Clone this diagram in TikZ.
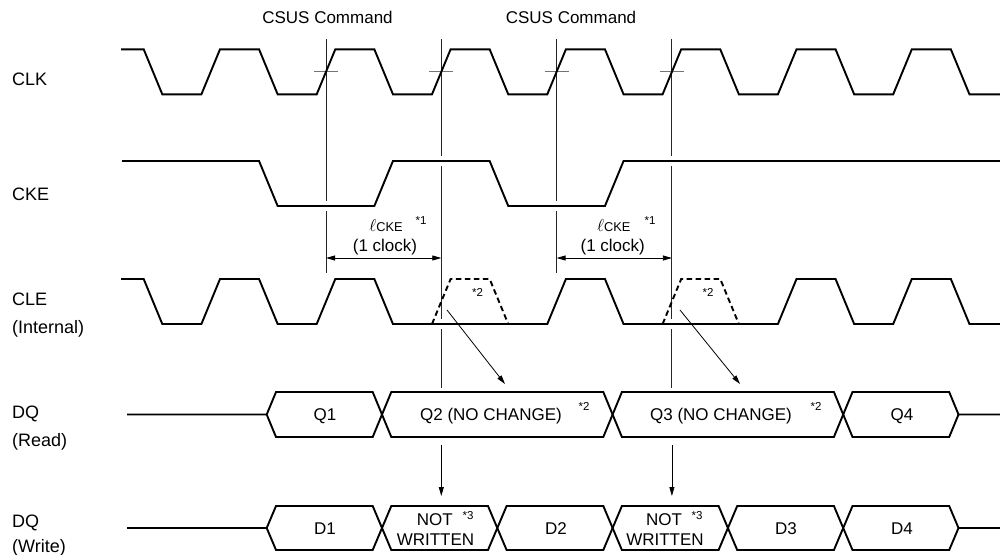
\documentclass[tikz,border=0pt]{standalone}
\usepackage{fontspec}
\setmainfont{Liberation Sans}
\usetikzlibrary{arrows.meta}
\begin{document}
\begin{tikzpicture}[x=1pt,y=-1pt,
  sig/.style={line width=1.9pt,line join=miter},
  dsig/.style={line width=1.9pt,dash pattern=on 5.5pt off 3.5pt},
  refline/.style={line width=0.9pt,black!85},
  crossmark/.style={line width=1pt,black!55},
  thinarrow/.style={line width=0.8pt,-{Triangle[length=9pt,width=5pt]}},
  dimarrow/.style={line width=0.8pt,{Triangle[length=9pt,width=5pt]}-{Triangle[length=9pt,width=5pt]}},
  lbl/.style={inner sep=0pt,anchor=base west,font=\fontsize{18}{20}\selectfont},
  txt/.style={inner sep=0pt,anchor=base,font=\fontsize{17}{20}\selectfont},
  note/.style={inner sep=0pt,anchor=base,font=\fontsize{11.5}{13}\selectfont},
]
\useasboundingbox (0,0) rectangle (1000,554);
\fill[white] (0,0) rectangle (1000,554);

% ---- left labels
\node[lbl] (lclk) at (12,85) {CLK};
\node[lbl] (lcke) at (12,200) {CKE};
\node[lbl] (lcle) at (12,305) {CLE};
\node[lbl] (lcle2) at (12,333) {(Internal)};
\node[lbl] (ldqr) at (12,418) {DQ};
\node[lbl] (ldqr2) at (12,446) {(Read)};
\node[lbl] (ldqw) at (12,527) {DQ};
\node[lbl] (ldqw2) at (12,552) {(Write)};

% ---- command labels
\node[txt] (cmd1) at (327.5,23) {CSUS Command};
\node[txt] (cmd2) at (571,23) {CSUS Command};

% ---- reference lines (broken where they cross signal levels)
\draw[refline] (326,39) -- (326,201) (326,211) -- (326,273);
\draw[refline] (556.6,39) -- (556.6,201) (556.6,211) -- (556.6,273);
\draw[refline] (441.3,39) -- (441.3,156) (441.3,166) -- (441.3,319) (441.3,329) -- (441.3,388);
\draw[refline] (671.9,39) -- (671.9,156) (671.9,166) -- (671.9,319) (671.9,329) -- (671.9,388);

% ---- cross marks on CLK
\foreach \x in {326,441.3,556.6,671.9}
  \draw[crossmark] (\x-12,71.8) -- (\x+12,71.8);

% ---- CLK
\draw[sig] (121,49.3) -- (143.7,49.3) -- (162.3,94.3) -- (201.4,94.3) -- (220,49.3)
  -- (259.05,49.3) -- (277.65,94.3) -- (316.7,94.3) -- (335.3,49.3)
  -- (374.35,49.3) -- (392.95,94.3) -- (432,94.3) -- (450.6,49.3)
  -- (489.65,49.3) -- (508.25,94.3) -- (547.3,94.3) -- (565.9,49.3)
  -- (604.95,49.3) -- (623.55,94.3) -- (662.6,94.3) -- (681.2,49.3)
  -- (720.25,49.3) -- (738.85,94.3) -- (777.9,94.3) -- (796.5,49.3)
  -- (835.55,49.3) -- (854.15,94.3) -- (893.2,94.3) -- (911.8,49.3)
  -- (950.85,49.3) -- (969.45,94.3) -- (1000,94.3);

% ---- CKE
\draw[sig] (122,161) -- (259.05,161) -- (277.65,206) -- (374.35,206) -- (392.95,161)
  -- (489.65,161) -- (508.25,206) -- (604.95,206) -- (623.55,161) -- (1000,161);

% ---- CLE (internal)
\draw[sig] (121,279) -- (143.7,279) -- (162.3,324) -- (201.4,324) -- (220,279)
  -- (259.05,279) -- (277.65,324) -- (316.7,324) -- (335.3,279)
  -- (374.35,279) -- (392.95,324) -- (547.3,324) -- (565.9,279)
  -- (604.95,279) -- (623.55,324) -- (777.9,324) -- (796.5,279)
  -- (835.55,279) -- (854.15,324) -- (893.2,324) -- (911.8,279)
  -- (950.85,279) -- (969.45,324) -- (1000,324);
\draw[dsig] (432,324) -- (450.6,279) -- (489.65,279) -- (508.25,324);
\draw[dsig] (662.6,324) -- (681.2,279) -- (720.25,279) -- (738.85,324);
\node[note] (n2a) at (477.5,296) {*2};
\node[note] (n2b) at (708,296) {*2};

% ---- lCKE dimension
\coordinate (d1a) at (326,258);
\coordinate (d1b) at (441.3,258);
\coordinate (d2a) at (556.6,258);
\coordinate (d2b) at (671.9,258);
\draw[dimarrow] (d1a) -- (d1b);
\draw[dimarrow] (d2a) -- (d2b);
\node[txt] (lcke1) at (386,231.7) {$\ell$\fontsize{12.8}{14}\selectfont CKE};
\node[note] (n1a) at (421,224) {*1};
\node[txt] (clk1) at (385,251.4) {(1 clock)};
\node[txt] (lcke2) at (613.7,231.7) {$\ell$\fontsize{12.8}{14}\selectfont CKE};
\node[note] (n1b) at (650,224) {*1};
\node[txt] (clk2) at (612.7,251.4) {(1 clock)};

% ---- diagonal arrows CLE -> DQ read
\coordinate (a1s) at (447,310);
\coordinate (a1e) at (505,384);
\coordinate (a2s) at (680,310);
\coordinate (a2e) at (740,384);
\draw[thinarrow] (a1s) -- (a1e);
\draw[thinarrow] (a2s) -- (a2e);

% ---- DQ (Read)
\draw[sig] (127,414.5) -- (266.7,414.5) -- (276,392) -- (372.7,392) -- (391.3,437)
  -- (603.3,437) -- (621.9,392) -- (833.9,392) -- (852.5,437) -- (949.2,437)
  -- (958.5,414.5) -- (1000,414.5);
\draw[sig] (266.7,414.5) -- (276,437) -- (372.7,437) -- (391.3,392)
  -- (603.3,392) -- (621.9,437) -- (833.9,437) -- (852.5,392) -- (949.2,392)
  -- (958.5,414.5);
\node[txt] (q1) at (325,420.5) {Q1};
\node[txt] (q2) at (491,420.5) {Q2 (NO CHANGE)};
\node[note] (n2c) at (584,410) {*2};
\node[txt] (q3) at (721,420.5) {Q3 (NO CHANGE)};
\node[note] (n2d) at (816,410) {*2};
\node[txt] (q4) at (902,420.5) {Q4};

% ---- vertical arrows DQ read -> DQ write
\coordinate (v1s) at (441.3,445);
\coordinate (v1e) at (441.3,496);
\coordinate (v2s) at (671.9,445);
\coordinate (v2e) at (671.9,496);
\draw[thinarrow] (v1s) -- (v1e);
\draw[thinarrow] (v2s) -- (v2e);

% ---- DQ (Write)
\draw[sig] (127,528) -- (266.7,528) -- (276,506) -- (372.7,506) -- (391.3,550)
  -- (488,550) -- (506.6,506) -- (603.3,506) -- (621.9,550) -- (718.6,550)
  -- (737.2,506) -- (833.9,506) -- (852.5,550) -- (949.2,550) -- (958.5,528) -- (1000,528);
\draw[sig] (266.7,528) -- (276,550) -- (372.7,550) -- (391.3,506) -- (488,506)
  -- (506.6,550) -- (603.3,550) -- (621.9,506) -- (718.6,506) -- (737.2,550)
  -- (833.9,550) -- (852.5,506) -- (949.2,506) -- (958.5,528);
\node[txt] (d1) at (325,534) {D1};
\node[txt] (nw1a) at (434.7,525) {NOT};
\node[txt] (nw1b) at (435.5,545) {WRITTEN};
\node[note] (n3a) at (468,519) {*3};
\node[txt] (d2) at (556,534) {D2};
\node[txt] (nw2a) at (664,525) {NOT};
\node[txt] (nw2b) at (665,545) {WRITTEN};
\node[note] (n3b) at (697,519) {*3};
\node[txt] (d3) at (786,534) {D3};
\node[txt] (d4) at (902,534) {D4};
\end{tikzpicture}
\end{document}
